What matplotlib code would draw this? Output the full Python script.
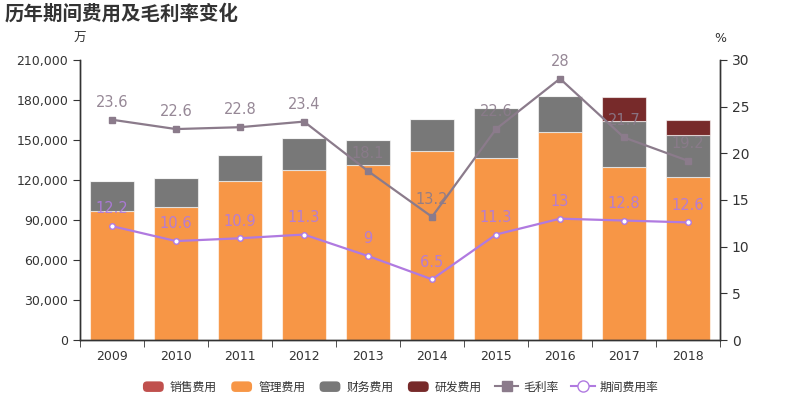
import matplotlib
matplotlib.use("Agg")
import matplotlib.pyplot as plt
import numpy as np
from matplotlib.patches import FancyBboxPatch, Rectangle
from matplotlib.lines import Line2D
from matplotlib.legend_handler import HandlerPatch
import matplotlib.ticker as mticker

plt.rcParams['font.family'] = ['DejaVu Sans', 'Noto Sans CJK SC']

years = ['2009', '2010', '2011', '2012', '2013', '2014', '2015', '2016', '2017', '2018']
sales = [0, 0, 0, 0, 0, 0, 0, 0, 0, 0]
admin = [97000, 100000, 119000, 127500, 131000, 142000, 136500, 156000, 130000, 122300]
finance = [22500, 21200, 19500, 24200, 18700, 23500, 37500, 27300, 34300, 31200]
rnd = [0, 0, 0, 0, 0, 0, 0, 0, 18000, 11500]
gross_margin = [23.6, 22.6, 22.8, 23.4, 18.1, 13.2, 22.6, 28, 21.7, 19.2]
expense_rate = [12.2, 10.6, 10.9, 11.3, 9, 6.5, 11.3, 13, 12.8, 12.6]

c_sales = '#c0504d'
c_admin = '#f79646'
c_fin = '#787878'
c_rnd = '#772a2a'
c_gm = '#8b7b8b'
c_er = '#b07ae0'
txt = '#333333'

fig = plt.figure(figsize=(8, 4), dpi=100)
ax = fig.add_axes([0.1, 0.15, 0.8, 0.7])
ax2 = ax.twinx()

x = np.arange(len(years))
w = 0.69
ec = (1, 1, 1, 0.6)
b0 = np.zeros(len(years))
ax.bar(x, sales, w, bottom=b0, color=c_sales, edgecolor=ec, linewidth=0.8)
b1 = b0 + np.array(sales)
ax.bar(x, admin, w, bottom=b1, color=c_admin, edgecolor=ec, linewidth=0.8)
b2 = b1 + np.array(admin)
ax.bar(x, finance, w, bottom=b2, color=c_fin, edgecolor=ec, linewidth=0.8)
b3 = b2 + np.array(finance)
ax.bar(x, rnd, w, bottom=b3, color=c_rnd, edgecolor=ec, linewidth=0.8)

ax.set_xlim(-0.5, len(years) - 0.5)
ax.set_ylim(0, 210000)
ax.set_yticks(np.arange(0, 210001, 30000))
ax.yaxis.set_major_formatter(mticker.FuncFormatter(lambda v, p: f'{int(v):,}'))
ax.set_xticks(x)
ax.set_xticklabels(years)
ax.set_xticks(np.arange(-0.5, len(years), 1), minor=True)
ax.tick_params(axis='x', which='major', length=0, labelsize=9, colors=txt, pad=7)
ax.tick_params(axis='x', which='minor', length=5, color=txt)
ax.tick_params(axis='y', labelsize=9, colors=txt, length=5)

ax2.set_ylim(0, 30)
ax2.set_yticks(np.arange(0, 31, 5))
ax2.tick_params(axis='y', labelsize=10, colors=txt, length=5)

for a in (ax, ax2):
    a.spines['top'].set_visible(False)
    for s in ('left', 'right', 'bottom'):
        a.spines[s].set_color(txt)
        a.spines[s].set_linewidth(1)

ax2.plot(x, gross_margin, color=c_gm, lw=1.6, marker='s', ms=4, mfc=c_gm, mec=c_gm, zorder=5)
ax2.plot(x, expense_rate, color=c_er, lw=1.6, marker='o', ms=4, mfc='white', mec=c_er, mew=1, zorder=5)
for xi, v in zip(x, gross_margin):
    ax2.annotate(f'{v:g}', (xi, v), xytext=(0, 7), textcoords='offset points', ha='center', va='bottom',
                 fontsize=10.5, color=c_gm, alpha=0.9)
for xi, v in zip(x, expense_rate):
    ax2.annotate(f'{v:g}', (xi, v), xytext=(0, 7), textcoords='offset points', ha='center', va='bottom',
                 fontsize=10.5, color=c_er, alpha=0.9)

fig.text(0.006, 0.965, '历年期间费用及毛利率变化', fontsize=14, fontweight='bold', color=txt, ha='left', va='center',
         family=['Noto Sans CJK SC'])
fig.text(0.1, 0.905, '万', fontsize=9, color=txt, ha='center', va='center', family=['Noto Sans CJK SC'])
fig.text(0.9, 0.905, '%', fontsize=9, color=txt, ha='center', va='center')


class RoundHandler(HandlerPatch):
    def create_artists(self, legend, orig_handle, xdescent, ydescent, width, height, fontsize, trans):
        p = FancyBboxPatch((-xdescent + 1, -ydescent), width - 2, height,
                           boxstyle='round,pad=0,rounding_size=3',
                           facecolor=orig_handle.get_facecolor(), edgecolor='none', transform=trans)
        return [p]


handles = [Rectangle((0, 0), 1, 1, fc=c) for c in (c_sales, c_admin, c_fin, c_rnd)]
handles += [Line2D([], [], color=c_gm, marker='s', ms=7, lw=1.5),
            Line2D([], [], color=c_er, marker='o', ms=8, mfc='white', mec=c_er, lw=1.5)]
labels = ['销售费用', '管理费用', '财务费用', '研发费用', '毛利率', '期间费用率']
leg = fig.legend(handles, labels, loc='center', bbox_to_anchor=(0.5, 0.032), ncol=6, frameon=False,
                 fontsize=8.5, handlelength=2.0, handleheight=1.0, columnspacing=1.1, handletextpad=0.4,
                 handler_map={Rectangle: RoundHandler()}, prop={'family': ['Noto Sans CJK SC'], 'size': 8.5})
for t in leg.get_texts():
    t.set_color(txt)

fig.savefig('out.png', dpi=100)
